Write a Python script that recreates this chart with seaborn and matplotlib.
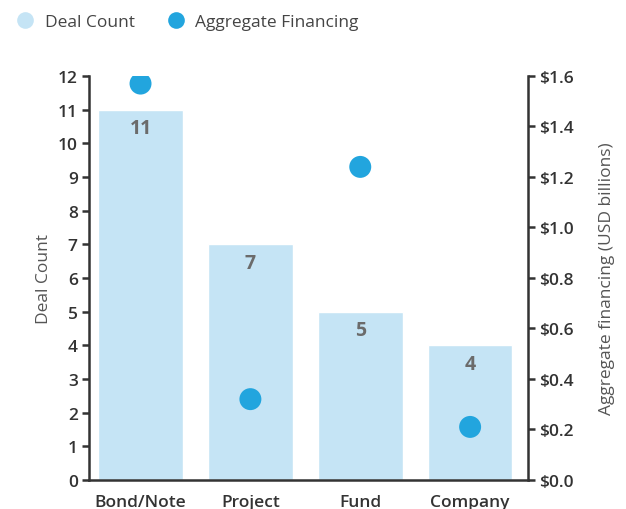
import matplotlib
matplotlib.use("Agg")
import matplotlib.pyplot as plt
import seaborn as sns
import pandas as pd
from matplotlib.lines import Line2D
from matplotlib.ticker import FuncFormatter, MultipleLocator

categories = ["Bond/Note", "Project", "Fund", "Company"]
deal_count = [11, 7, 5, 4]
aggregate_financing = [1.57, 0.32, 1.24, 0.21]  # USD billions

bar_color = "#C5E4F5"
dot_color = "#22A5DE"
axis_color = "#333333"

sns.set_theme(style="white")
plt.rcParams["font.family"] = ["Open Sans", "DejaVu Sans"]

df = pd.DataFrame({"category": categories,
                   "deals": deal_count,
                   "financing": aggregate_financing})

fig = plt.figure(figsize=(6.26, 5.10), dpi=100)
ax = fig.add_axes([0.142, 0.057, 0.702, 0.792])

sns.barplot(data=df, x="category", y="deals", color=bar_color,
            width=0.77, saturation=1, ax=ax)
ax.set_xlim(-0.47, 3.53)
ax.set_ylim(0, 12)
ax.yaxis.set_major_locator(MultipleLocator(1))

for i, v in enumerate(deal_count):
    ax.text(i, v - 0.25, str(v), ha="center", va="top", fontsize=14,
            fontweight="bold", color="#6b6b6b")

ax2 = ax.twinx()
sns.scatterplot(x=list(range(len(categories))), y=aggregate_financing,
                color=dot_color, s=250, edgecolor="none", ax=ax2, zorder=5)
ax2.set_ylim(0, 1.6)
ax2.yaxis.set_major_locator(MultipleLocator(0.2))
ax2.yaxis.set_major_formatter(FuncFormatter(lambda v, _: f"${v:.1f}"))

for a in (ax, ax2):
    for s in a.spines.values():
        s.set_visible(False)
ax.spines["left"].set_visible(True)
ax.spines["bottom"].set_visible(True)
ax2.spines["right"].set_visible(True)
for sp in (ax.spines["left"], ax.spines["bottom"], ax2.spines["right"]):
    sp.set_color(axis_color)
    sp.set_linewidth(1.8)

tick_size = 12.5
ax.tick_params(axis="y", which="major", direction="out", length=5, width=1.8,
               color=axis_color, labelsize=tick_size, labelcolor=axis_color, pad=3, left=True)
ax.tick_params(axis="x", length=0, labelsize=tick_size, labelcolor=axis_color, pad=10)
ax2.tick_params(axis="y", which="major", direction="out", length=5, width=1.8,
                color=axis_color, labelsize=tick_size, labelcolor=axis_color, pad=3, right=True)
for lbl in ax.get_yticklabels() + ax.get_xticklabels() + ax2.get_yticklabels():
    lbl.set_fontweight("semibold")

ax.set_xlabel("")
ax.set_ylabel("Deal Count", fontsize=12.5, color="#555555", labelpad=4)
ax2.set_ylabel("Aggregate financing (USD billions)", fontsize=12.5,
               color="#555555", labelpad=18)
ax.grid(False)
ax2.grid(False)

handles = [
    Line2D([], [], marker="o", linestyle="none", markersize=12,
           markerfacecolor=bar_color, markeredgecolor="none", label="Deal Count"),
    Line2D([], [], marker="o", linestyle="none", markersize=12,
           markerfacecolor=dot_color, markeredgecolor="none", label="Aggregate Financing"),
]
fig.legend(handles=handles, loc="upper left", bbox_to_anchor=(-0.012, 1.002),
           ncol=2, frameon=False, fontsize=12.5, handletextpad=0.1,
           columnspacing=1.4, labelcolor="#444444")

fig.savefig("out.png", dpi=100)
